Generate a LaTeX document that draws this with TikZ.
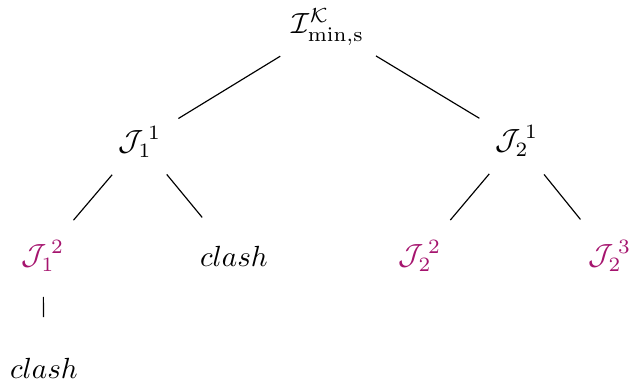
\documentclass[tikz,border=0pt]{standalone}
\usepackage{amsmath}
\definecolor{vio}{RGB}{165,20,110}
\begin{document}
\begin{tikzpicture}[x=0.343pt,y=-0.343pt,
  edge/.style={line width=0.4pt},
  lbl/.style={inner sep=0pt},
  hl/.style={lbl,text=vio}]
\useasboundingbox (0,0) rectangle (630,385);
\node[lbl] (top) at (328,27) {$\mathcal{I}^{\mathcal{K}}_{\mathrm{min,s}}$};
\node[lbl] (j11) at (140,142) {$\mathcal{J}_1^{\,1}$};
\node[lbl] (j21) at (517,141) {$\mathcal{J}_2^{\,1}$};
\node[hl] (j12) at (43,256) {$\mathcal{J}_1^{\,2}$};
\node[lbl] (c1) at (234,256) {$clash$};
\node[hl] (j22) at (420,256) {$\mathcal{J}_2^{\,2}$};
\node[hl] (j23) at (610,256) {$\mathcal{J}_2^{\,3}$};
\node[lbl] (c2) at (44,368) {$clash$};
\draw[edge,shorten <={56*0.343pt},shorten >={45*0.343pt}] (top.center) -- (j11.center);
\draw[edge,shorten <={56*0.343pt},shorten >={44*0.343pt}] (top.center) -- (j21.center);
\draw[edge,shorten <={43*0.343pt},shorten >={47*0.343pt}] (j11.center) -- (j12.center);
\draw[edge,shorten <={42*0.343pt},shorten >={50*0.343pt}] (j11.center) -- (c1.center);
\draw[edge,shorten <={43*0.343pt},shorten >={47*0.343pt}] (j21.center) -- (j22.center);
\draw[edge,shorten <={43*0.343pt},shorten >={47*0.343pt}] (j21.center) -- (j23.center);
\draw[edge,shorten <={41*0.343pt},shorten >={51*0.343pt}] (j12.center) -- (c2.center);
\end{tikzpicture}
\end{document}
